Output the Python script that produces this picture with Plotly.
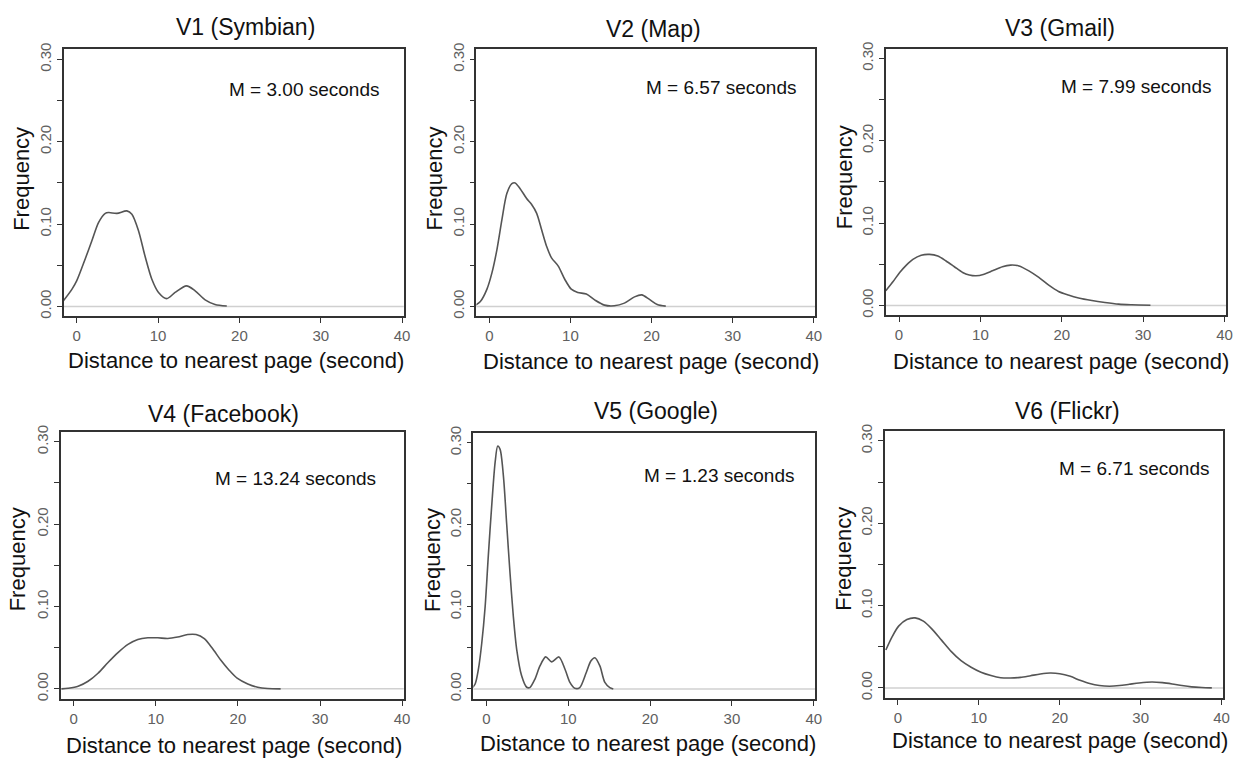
import plotly.graph_objects as go

# ---- data (density curves) ----
titles = ["V1 (Symbian)", "V2 (Map)", "V3 (Gmail)", "V4 (Facebook)", "V5 (Google)", "V6 (Flickr)"]
mean_labels = ["M = 3.00 seconds", "M = 6.57 seconds", "M = 7.99 seconds",
               "M = 13.24 seconds", "M = 1.23 seconds", "M = 6.71 seconds"]
x_title = "Distance to nearest page (second)"
y_title = "Frequency"
x_ticks = [0, 10, 20, 30, 40]
y_ticks = [0.00, 0.05, 0.10, 0.15, 0.20, 0.25, 0.30]
y_ticktext = ["0.00", "", "0.10", "", "0.20", "", "0.30"]

v1_x = [-1.72, -0.57, 0.0, 1.06, 1.88, 2.7, 3.52, 3.93, 4.95, 6.17, 6.79, 7.6, 8.43, 9.24, 10.06, 11.08, 12.1, 13.5, 14.56, 15.79, 17.0, 18.45]
v1_y = [0.0056, 0.021, 0.031, 0.058, 0.080, 0.102, 0.113, 0.114, 0.113, 0.116, 0.112, 0.092, 0.060, 0.033, 0.017, 0.0095, 0.017, 0.025, 0.019, 0.008, 0.0024, 0.0005]

v2_x = [-1.8, -1.1, -0.29, 0.33, 0.94, 1.55, 2.16, 2.78, 3.18, 3.8, 4.6, 5.2, 5.84, 6.45, 7.06, 7.67, 8.5, 9.3, 10.1, 10.9, 11.96, 12.98, 14.2, 15.4, 16.65, 17.9, 18.8, 19.7, 20.7, 21.75]
v2_y = [0.001, 0.006, 0.021, 0.041, 0.069, 0.105, 0.137, 0.149, 0.150, 0.143, 0.131, 0.124, 0.113, 0.093, 0.073, 0.059, 0.049, 0.033, 0.021, 0.017, 0.015, 0.008, 0.0016, 0.0008, 0.004, 0.0116, 0.014, 0.0088, 0.0024, 0.0004]

v3_x = [-1.63, -0.73, 0.08, 0.9, 1.7, 2.73, 3.75, 4.76, 5.78, 6.8, 7.82, 8.63, 9.45, 10.46, 11.48, 12.7, 13.72, 14.74, 15.96, 17.18, 18.4, 19.6, 20.8, 22.07, 23.7, 25.3, 27.0, 28.6, 30.9]
v3_y = [0.0179, 0.029, 0.040, 0.049, 0.056, 0.061, 0.062, 0.060, 0.054, 0.047, 0.040, 0.037, 0.036, 0.038, 0.042, 0.047, 0.049, 0.048, 0.042, 0.034, 0.0246, 0.017, 0.0127, 0.0091, 0.006, 0.0036, 0.0016, 0.0008, 0.0002]

v4_x = [-1.5, -0.69, 0.53, 1.74, 2.95, 4.17, 5.38, 6.6, 7.8, 9.02, 10.23, 11.45, 12.66, 13.88, 14.9, 15.9, 16.9, 17.9, 18.9, 19.9, 21.2, 22.4, 23.6, 25.2]
v4_y = [0.0, 0.0008, 0.0032, 0.0092, 0.019, 0.032, 0.044, 0.054, 0.060, 0.062, 0.062, 0.0612, 0.063, 0.066, 0.066, 0.061, 0.049, 0.035, 0.023, 0.013, 0.006, 0.002, 0.0004, 0.0]

v5_x = [-1.79, -1.38, -0.98, -0.57, -0.16, 0.24, 0.65, 1.06, 1.38, 1.67, 2.07, 2.48, 2.89, 3.29, 3.7, 4.3, 4.92, 5.3, 5.93, 6.54, 7.24, 7.97, 8.86, 9.6, 10.2, 10.8, 11.4, 12.2, 12.76, 13.25, 13.86, 14.47, 15.08, 15.5]
v5_y = [0.0008, 0.006, 0.024, 0.056, 0.100, 0.164, 0.224, 0.276, 0.296, 0.292, 0.260, 0.200, 0.140, 0.088, 0.048, 0.016, 0.002, 0.0016, 0.012, 0.028, 0.039, 0.033, 0.039, 0.024, 0.008, 0.0008, 0.0016, 0.020, 0.034, 0.038, 0.028, 0.008, 0.0016, 0.0]

v6_x = [-1.5, -0.73, 0.08, 1.1, 2.12, 3.14, 4.15, 5.38, 6.6, 7.8, 9.04, 10.26, 11.5, 12.7, 13.9, 15.15, 16.4, 17.6, 18.8, 20.0, 21.3, 22.5, 23.7, 24.9, 26.15, 27.4, 28.6, 29.8, 31.4, 32.7, 33.9, 35.1, 36.3, 37.55, 38.8]
v6_y = [0.046, 0.062, 0.075, 0.083, 0.085, 0.081, 0.072, 0.058, 0.044, 0.033, 0.025, 0.019, 0.015, 0.0124, 0.012, 0.0128, 0.0148, 0.0168, 0.018, 0.0172, 0.014, 0.0092, 0.0052, 0.0028, 0.002, 0.0028, 0.0044, 0.006, 0.0072, 0.0064, 0.0048, 0.0028, 0.0012, 0.0004, 0.0]

series_x = [v1_x, v2_x, v3_x, v4_x, v5_x, v6_x]
series_y = [v1_y, v2_y, v3_y, v4_y, v5_y, v6_y]

# ---- layout geometry (pixels) ----
W, H = 1254, 764
boxes = [(64, 406, 43, 313), (479, 820, 43, 313), (891, 1233, 42, 312),
         (61, 406, 430, 700), (476, 820, 431, 700), (890, 1230, 429, 699)]
title_pos = [(247, 20), (657, 22), (1066, 21), (225, 412), (660, 409), (1073, 409)]
xlab_pos = [(237, 358), (655, 359), (1067, 359), (235, 747), (652, 745), (1066, 742)]
ylab_pos = [(22, 174), (437, 174), (850, 172), (18, 559), (435, 560), (848, 558)]
mean_pos = [(306, 83), (726, 81), (1143, 80), (297, 477), (724, 474), (1141, 467)]

def px(x):
    return x / W

def py(y):
    return 1 - y / H

fig = go.Figure()
layout = dict(
    width=W, height=H,
    margin=dict(l=0, r=0, t=0, b=0),
    paper_bgcolor="white", plot_bgcolor="white",
    showlegend=False,
    font=dict(family="Liberation Sans, Arial, sans-serif", color="#111"),
)
annotations = []
shapes = []
tickfont = dict(family="Liberation Sans Narrow, Liberation Sans, Arial, sans-serif", size=15, color="#606060")

for i in range(6):
    n = "" if i == 0 else str(i + 1)
    x0, x1, y0, y1 = boxes[i]
    layout["xaxis" + n] = dict(
        domain=[px(x0), px(x1)], range=[-1.6, 40.2], anchor="y" + n,
        tickvals=x_ticks, ticks="outside", ticklen=5, tickcolor="#333",
        showline=True, linecolor="#333", linewidth=1.5, mirror=True,
        showgrid=False, zeroline=False, tickfont=tickfont,
    )
    layout["yaxis" + n] = dict(
        domain=[py(y1), py(y0)], range=[-0.012, 0.312], anchor="x" + n,
        tickvals=y_ticks, ticktext=y_ticktext, ticks="outside", ticklen=5,
        tickcolor="#333", tickangle=-90,
        showline=True, linecolor="#333", linewidth=1.5, mirror=True,
        showgrid=False, zeroline=False, tickfont=tickfont,
    )
    shapes.append(dict(type="line", xref="x" + n + " domain", yref="y" + n,
                       x0=0, x1=1, y0=0, y1=0,
                       line=dict(color="#d0d0d0", width=1.5), layer="below"))
    fig.add_trace(go.Scatter(
        x=series_x[i], y=series_y[i], mode="lines",
        line=dict(color="#555555", width=1.6, shape="spline", smoothing=0.8),
        xaxis="x" + n, yaxis="y" + n, hoverinfo="skip",
    ))
    annotations.append(dict(text=titles[i], x=px(title_pos[i][0]), y=py(title_pos[i][1]),
                            xref="paper", yref="paper", showarrow=False,
                            xanchor="center", yanchor="middle",
                            font=dict(size=23, color="#111")))
    annotations.append(dict(text=x_title, x=px(xlab_pos[i][0]), y=py(xlab_pos[i][1]),
                            xref="paper", yref="paper", showarrow=False,
                            xanchor="center", yanchor="middle",
                            font=dict(size=22, color="#111")))
    annotations.append(dict(text=y_title, x=px(ylab_pos[i][0]), y=py(ylab_pos[i][1]),
                            xref="paper", yref="paper", showarrow=False, textangle=-90,
                            xanchor="center", yanchor="middle",
                            font=dict(size=22, color="#111")))
    annotations.append(dict(text=mean_labels[i], x=px(mean_pos[i][0]), y=py(mean_pos[i][1]),
                            xref="paper", yref="paper", showarrow=False,
                            xanchor="center", yanchor="middle",
                            font=dict(size=19, color="#111")))

layout["annotations"] = annotations
layout["shapes"] = shapes
fig.update_layout(**layout)
fig.write_html("out.html")
